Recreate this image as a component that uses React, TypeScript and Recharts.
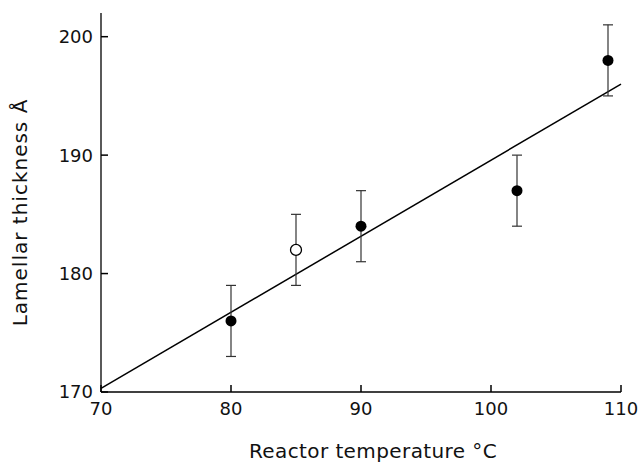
import React from 'react';
import {
  ComposedChart,
  Scatter,
  ErrorBar,
  XAxis,
  YAxis,
  ReferenceLine,
} from 'recharts';

// filled points
const temps = [80, 90, 102, 109];
const thickness = [176, 184, 187, 198];
const errors = [3, 3, 3, 3];

// open point
const openTemps = [85];
const openThickness = [182];
const openErrors = [3];

// fitted line ends
const fitX = [70, 110];
const fitY = [170.3, 196];

const xTicks = [70, 80, 90, 100, 110];
const yTicks = [170, 180, 190, 200];

const filled = temps.map((t, i) => ({ x: t, y: thickness[i], err: errors[i] }));
const open = openTemps.map((t, i) => ({ x: t, y: openThickness[i], err: openErrors[i] }));

const FONT = 'DejaVu Sans';
const TICK_LEN = 7;

const FilledDot = (props: any) => (
  <circle cx={props.cx} cy={props.cy} r={5.5} fill="#000" />
);
const OpenDot = (props: any) => (
  <circle cx={props.cx} cy={props.cy} r={5.5} fill="#fff" stroke="#000" strokeWidth={1.3} />
);

// inward tick marks + label
const XTick = (props: any) => {
  const { x, y, payload } = props;
  return (
    <g>
      <path d={`M${x},${y}V${y - TICK_LEN}`} stroke="#000" strokeWidth={1.5} fill="none" />
      <text x={x} y={y + 10} dy="0.71em" textAnchor="middle" fill="#111" fontSize={18} fontFamily={FONT}>
        {payload.value}
      </text>
    </g>
  );
};

const YTick = (props: any) => {
  const { x, y, payload } = props;
  return (
    <g>
      <path d={`M${x},${y}H${x + TICK_LEN}`} stroke="#000" strokeWidth={1.5} fill="none" />
      <text x={x - 8} y={y} dy="0.355em" textAnchor="end" fill="#111" fontSize={18} fontFamily={FONT}>
        {payload.value}
      </text>
    </g>
  );
};

export default function App() {
  return (
    <div style={{ position: 'absolute', left: 0, top: 0, background: '#fff' }}>
      <ComposedChart
        width={642}
        height={462}
        margin={{ top: 13, right: 21, bottom: 0, left: 0 }}
      >
        <XAxis
          type="number"
          dataKey="x"
          domain={[70, 110]}
          ticks={xTicks}
          allowDataOverflow
          height={70}
          tickSize={0}
          tickMargin={0}
          tickLine={false}
          stroke="#000"
          strokeWidth={1.3}
          tick={XTick}
          label={{
            value: 'Reactor temperature °C',
            position: 'insideBottom',
            offset: 4,
            dx: 12,
            style: { fill: '#111', fontSize: 20, fontFamily: FONT, letterSpacing: 0.4 },
          }}
        />
        <YAxis
          type="number"
          dataKey="y"
          domain={[170, 202]}
          ticks={yTicks}
          allowDataOverflow
          width={101}
          tickSize={0}
          tickMargin={0}
          tickLine={false}
          stroke="#000"
          strokeWidth={1.3}
          tick={YTick}
          label={{
            value: 'Lamellar thickness Å',
            angle: -90,
            position: 'insideLeft',
            offset: 20,
            dy: 10,
            style: { fill: '#111', fontSize: 20, fontFamily: FONT, textAnchor: 'middle', letterSpacing: 1 },
          }}
        />
        <ReferenceLine
          segment={[
            { x: fitX[0], y: fitY[0] },
            { x: fitX[1], y: fitY[1] },
          ]}
          stroke="#000"
          strokeWidth={1.5}
          ifOverflow="visible"
        />
        <Scatter data={filled} shape={FilledDot} isAnimationActive={false}>
          <ErrorBar dataKey="err" direction="y" width={5} stroke="#333" strokeWidth={1.2} />
        </Scatter>
        <Scatter data={open} shape={OpenDot} isAnimationActive={false}>
          <ErrorBar dataKey="err" direction="y" width={5} stroke="#333" strokeWidth={1.2} />
        </Scatter>
      </ComposedChart>
    </div>
  );
}
